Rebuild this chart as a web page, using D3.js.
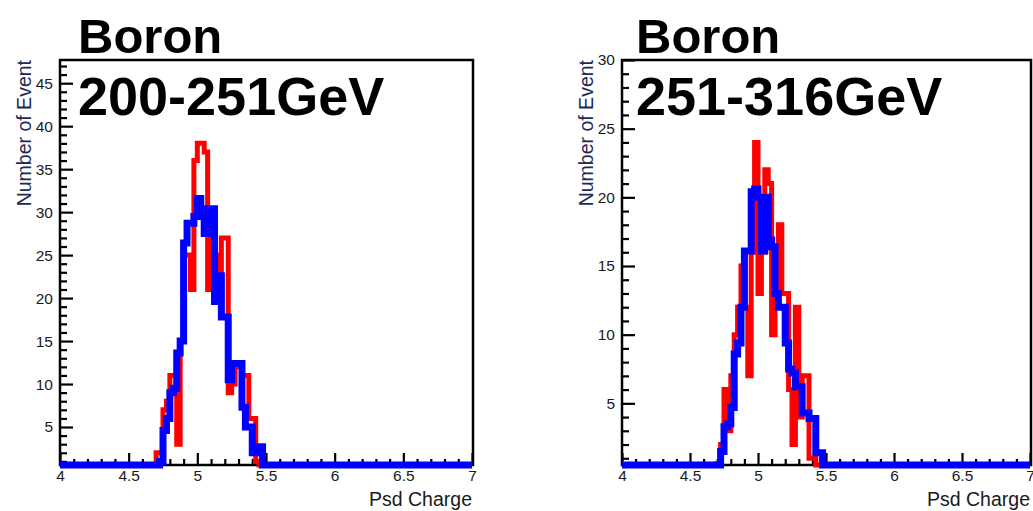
<!DOCTYPE html>
<html>
<head>
<meta charset="utf-8">
<script src="https://cdn.jsdelivr.net/npm/d3@7"></script>
<style>
body { margin: 0; background: #fff; }
svg { display: block; }
.tick text { font-family: "Liberation Sans", Arial, sans-serif; font-size: 15.5px; fill: #1a1a1a; }
.tick line { stroke: #000; stroke-width: 2.2; }
.frame { fill: none; stroke: #000; stroke-width: 2.5; }
.hist { fill: none; stroke-linejoin: miter; }
.title { font-family: "Liberation Sans", Arial, sans-serif; font-weight: bold; fill: #000; }
.axtitle { font-family: "Liberation Sans", Arial, sans-serif; font-size: 19.5px; }
</style>
</head>
<body>
<div id="container"></div>
<script>
// x axis (Psd Charge), bins of 0.025 from 4 to 7
var xDomain = [4, 7];
var xTicks = [4, 4.5, 5, 5.5, 6, 6.5, 7];
var binWidth = 0.025;
var firstBin = 4.65;   // left edge of the first listed bin

// Boron 200-251 GeV
var leftRed  = [0, 0, 2, 2, 7, 8, 11, 11, 3, 15, 25, 25, 21, 36, 38, 38, 37, 21, 29, 25,
                20, 27, 27, 9, 10, 12, 12, 11, 11, 6, 6, 1, 0, 0];
var leftBlue = [0, 0, 0.5, 1, 4.6, 6, 9, 9.5, 13.6, 15, 26.4, 28.7, 28.7, 29.5, 31.6, 30, 27.5, 30.4, 30.4, 19.6,
                22.6, 17.8, 17.8, 10.5, 12.4, 12.4, 12.4, 7.3, 5, 5, 2, 2.7, 2.7, 0];
var leftYTicks = [5, 10, 15, 20, 25, 30, 35, 40, 45];

// Boron 251-316 GeV
var rightRed  = [0, 0, 0.6, 2, 6, 3, 7, 10, 12, 15, 12, 7, 16, 24, 13, 16, 22, 21, 10, 13,
                 18, 13, 13, 6, 2, 12, 4, 7, 7, 1, 1, 0, 0, 0];
var rightBlue = [0, 0.3, 0.5, 1.5, 3.3, 3.5, 4.7, 8.6, 9.4, 12, 16.1, 16.1, 20.4, 20.6, 20, 16.1, 20, 16.9, 16.4, 13,
                 12, 12, 9.4, 7.5, 7.2, 6.2, 6.2, 4.3, 4.3, 3.9, 3.9, 1.4, 1.4, 0];
var rightYTicks = [5, 10, 15, 20, 25, 30];

var titles1 = ["Boron", "Boron"];
var titles2 = ["200-251GeV", "251-316GeV"];

var panels = [
    { red: leftRed,  blue: leftBlue,  yTicks: leftYTicks,  yDomain: [0.58, 47.7], left: 60,  right: 472,  tx: 78,  t1: titles1[0], t2: titles2[0] },
    { red: rightRed, blue: rightBlue, yTicks: rightYTicks, yDomain: [0.51, 30],   left: 622, right: 1030, tx: 636, t1: titles1[1], t2: titles2[1] }
];

var width = 1033, height = 511;
var plotTop = 60, plotBottom = 465;

var svg = d3.select("#container").append("svg")
    .attr("width", width)
    .attr("height", height);

function histPoints(vals) {
    var pts = [[xDomain[0], 0]];
    for (var i = 0; i < vals.length; i++) {
        pts.push([firstBin + i * binWidth, vals[i]]);
    }
    pts.push([firstBin + vals.length * binWidth, 0]);
    pts.push([xDomain[1], 0]);
    return pts;
}

panels.forEach(function(p) {
    var x = d3.scaleLinear().domain(xDomain).range([p.left, p.right]);
    var y = d3.scaleLinear().domain(p.yDomain).range([plotBottom, plotTop]).clamp(true);
    var g = svg.append("g");

    // frame
    g.append("rect").attr("class", "frame")
        .attr("x", p.left).attr("y", plotTop)
        .attr("width", p.right - p.left + 1).attr("height", plotBottom - plotTop);

    // y axis: major + minor ticks pointing inward
    var yMinor = d3.range(1, Math.floor(p.yDomain[1]) + 1).filter(function(v) { return v % 5 != 0; });
    g.append("g").attr("transform", "translate(" + p.left + ",0)")
        .call(d3.axisLeft(y).tickValues(yMinor).tickSize(-7).tickFormat(""))
        .call(function(a) { a.select(".domain").remove(); });
    g.append("g").attr("transform", "translate(" + p.left + ",0)")
        .call(d3.axisLeft(y).tickValues(p.yTicks).tickSize(-13).tickPadding(7).tickFormat(d3.format("d")))
        .call(function(a) { a.select(".domain").remove(); });

    // x axis
    var xMinor = d3.range(41, 70).map(function(v) { return v / 10; }).filter(function(v) { return Math.round(v * 10) % 5 != 0; });
    g.append("g").attr("transform", "translate(0," + plotBottom + ")")
        .call(d3.axisBottom(x).tickValues(xMinor).tickSize(-6).tickFormat(""))
        .call(function(a) { a.select(".domain").remove(); });
    g.append("g").attr("transform", "translate(0," + plotBottom + ")")
        .call(d3.axisBottom(x).tickValues(xTicks).tickSize(-12).tickPadding(5).tickFormat(d3.format("")))
        .call(function(a) { a.select(".domain").remove(); });

    var line = d3.line()
        .x(function(d) { return x(d[0]); })
        .y(function(d) { return y(d[1]); })
        .curve(d3.curveStepAfter);

    g.append("path").attr("class", "hist")
        .attr("d", line(histPoints(p.red)))
        .attr("stroke", "#ff0000").attr("stroke-width", 5);
    g.append("path").attr("class", "hist")
        .attr("d", line(histPoints(p.blue)))
        .attr("stroke", "#0000ff").attr("stroke-width", 7);

    // axis titles
    g.append("text").attr("class", "axtitle")
        .attr("transform", "translate(" + (p.left - 29) + "," + plotTop + ") rotate(-90)")
        .attr("text-anchor", "end")
        .attr("fill", "#1e2b58")
        .text("Number of Event");
    g.append("text").attr("class", "axtitle")
        .attr("x", p.right).attr("y", 506)
        .attr("text-anchor", "end")
        .attr("fill", "#1a1a1a")
        .text("Psd Charge");

    // big labels
    g.append("text").attr("class", "title")
        .attr("x", p.tx).attr("y", 53)
        .style("font-size", "49px")
        .text(p.t1);
    g.append("text").attr("class", "title")
        .attr("x", p.tx).attr("y", 115)
        .style("font-size", "54px")
        .text(p.t2);
});
</script>
</body>
</html>
